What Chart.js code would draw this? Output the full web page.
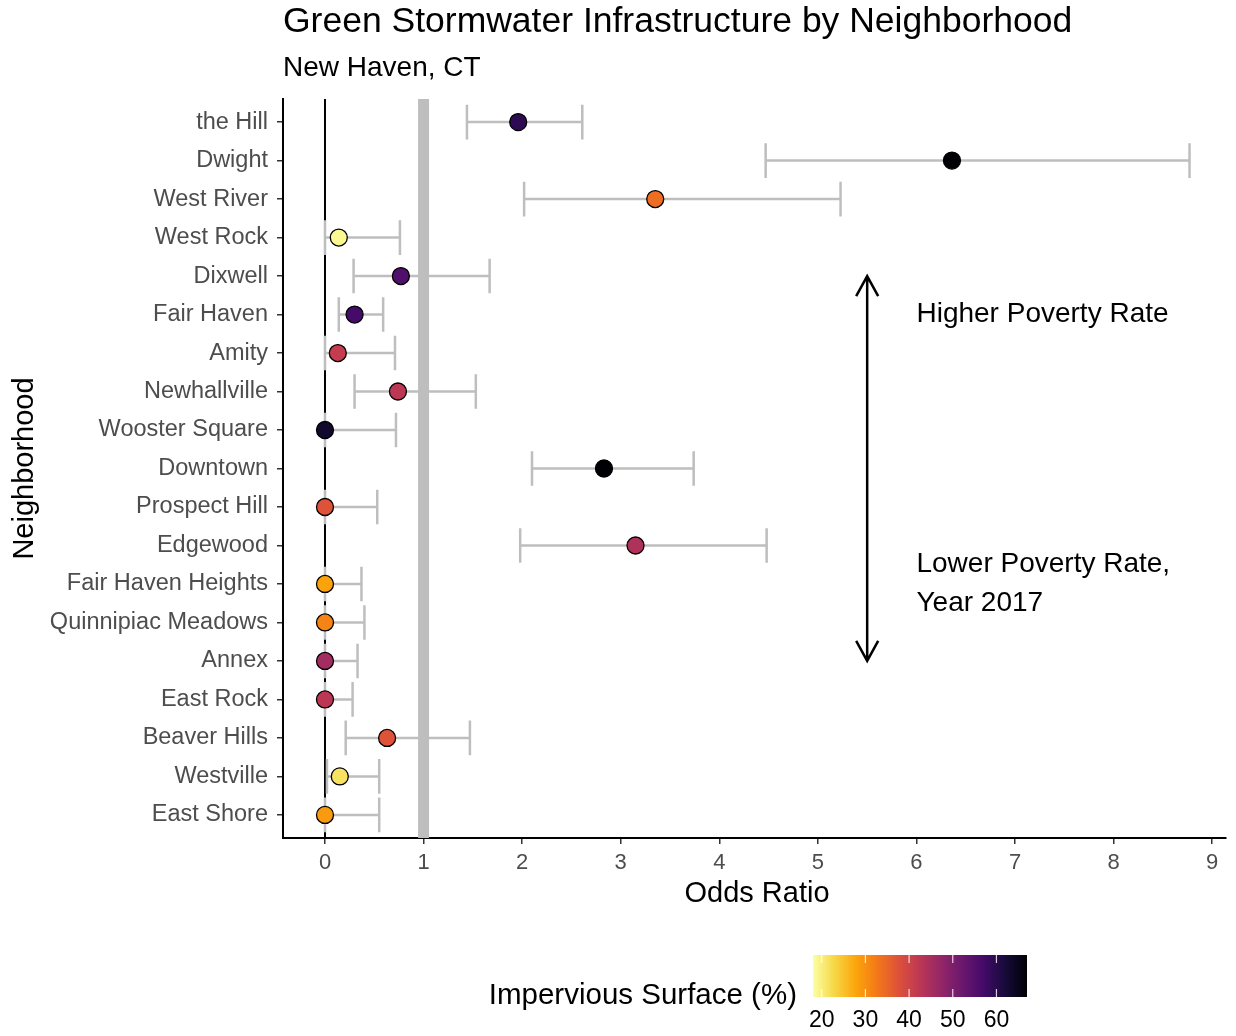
<!DOCTYPE html>
<html>
<head>
<meta charset="utf-8">
<script src="https://cdn.jsdelivr.net/npm/chart.js@4.4.1/dist/chart.umd.min.js"></script>
<style>
  html, body { margin: 0; padding: 0; background: #fff; }
  #wrap { width: 1236px; height: 1036px; }
</style>
</head>
<body>
<div id="wrap"><canvas id="graphique"></canvas></div>
<script>
// donnees
var quartiers = ['the Hill', 'Dwight', 'West River', 'West Rock', 'Dixwell', 'Fair Haven', 'Amity',
    'Newhallville', 'Wooster Square', 'Downtown', 'Prospect Hill', 'Edgewood', 'Fair Haven Heights',
    'Quinnipiac Meadows', 'Annex', 'East Rock', 'Beaver Hills', 'Westville', 'East Shore'];
var oddsRatio = [1.96, 6.36, 3.35, 0.14, 0.77, 0.30, 0.13, 0.74, 0.00, 2.83, 0.00, 3.15, 0.00, 0.00, 0.00, 0.00, 0.63, 0.15, 0.00];
var borneBasse = [1.44, 4.47, 2.02, 0.00, 0.29, 0.14, 0.00, 0.30, 0.00, 2.10, 0.00, 1.98, 0.00, 0.00, 0.00, 0.00, 0.21, 0.02, 0.00];
var borneHaute = [2.61, 8.77, 5.23, 0.76, 1.67, 0.59, 0.71, 1.53, 0.72, 3.74, 0.53, 4.48, 0.37, 0.40, 0.33, 0.28, 1.47, 0.55, 0.55];
var impermeable = [59.5, 67, 34, 19, 55.5, 57, 41.5, 42.5, 63, 67, 37.5, 44, 28, 31.5, 45.5, 42.5, 37.5, 21.5, 29];
var ticksX = [0, 1, 2, 3, 4, 5, 6, 7, 8, 9];
var ticksLegende = [20, 30, 40, 50, 60];
var legendeMin = 18, legendeMax = 67;

// palette inferno
var inferno = ['#000004', '#160b39', '#420a68', '#6a176e', '#932667', '#bc3754',
    '#dd513a', '#f37819', '#fca50a', '#f6d746', '#fcffa4'];

function hexRgb(h) {
    return [parseInt(h.substr(1, 2), 16), parseInt(h.substr(3, 2), 16), parseInt(h.substr(5, 2), 16)];
}
function couleur(v) {
    var t = 1 - (v - legendeMin) / (legendeMax - legendeMin);
    t = Math.max(0, Math.min(1, t));
    var p = t * (inferno.length - 1);
    var i = Math.min(Math.floor(p), inferno.length - 2);
    var f = p - i;
    var a = hexRgb(inferno[i]), b = hexRgb(inferno[i + 1]);
    return 'rgb(' + Math.round(a[0] + (b[0] - a[0]) * f) + ',' + Math.round(a[1] + (b[1] - a[1]) * f) + ',' + Math.round(a[2] + (b[2] - a[2]) * f) + ')';
}

var points = quartiers.map(function (q, i) { return { x: oddsRatio[i], y: i }; });
var couleurs = impermeable.map(couleur);

var police = '"Liberation Sans", Arial, sans-serif';

var pluginFond = {
    id: 'fond',
    beforeDatasetsDraw: function (chart) {
        var ctx = chart.ctx, x = chart.scales.x, y = chart.scales.y, zone = chart.chartArea;
        ctx.save();
        // ligne a 0
        ctx.strokeStyle = '#000';
        ctx.lineWidth = 2;
        ctx.beginPath();
        ctx.moveTo(x.getPixelForValue(0), zone.top);
        ctx.lineTo(x.getPixelForValue(0), zone.bottom);
        ctx.stroke();
        // ligne a 1
        ctx.strokeStyle = '#bebebe';
        ctx.lineWidth = 11;
        ctx.beginPath();
        ctx.moveTo(x.getPixelForValue(1), zone.top);
        ctx.lineTo(x.getPixelForValue(1), zone.bottom);
        ctx.stroke();
        // barres d'erreur
        ctx.strokeStyle = '#bebebe';
        ctx.lineWidth = 2.5;
        var demi = Math.abs(y.getPixelForValue(0.45) - y.getPixelForValue(0));
        for (var i = 0; i < quartiers.length; i++) {
            var py = y.getPixelForValue(i);
            var x1 = x.getPixelForValue(borneBasse[i]), x2 = x.getPixelForValue(borneHaute[i]);
            ctx.beginPath();
            ctx.moveTo(x1, py); ctx.lineTo(x2, py);
            ctx.moveTo(x1, py - demi); ctx.lineTo(x1, py + demi);
            ctx.moveTo(x2, py - demi); ctx.lineTo(x2, py + demi);
            ctx.stroke();
        }
        ctx.restore();
    },
    afterDraw: function (chart) {
        var ctx = chart.ctx, x = chart.scales.x, y = chart.scales.y, zone = chart.chartArea;
        ctx.save();
        // titres
        ctx.fillStyle = '#000';
        ctx.textBaseline = 'middle';
        ctx.textAlign = 'left';
        ctx.font = '35.5px ' + police;
        ctx.fillText('Green Stormwater Infrastructure by Neighborhood', zone.left, 22);
        ctx.font = '28px ' + police;
        ctx.fillText('New Haven, CT', zone.left, 68);

        // titres des axes
        ctx.font = '29px ' + police;
        ctx.textAlign = 'center';
        ctx.fillText('Odds Ratio', 757, 894);
        ctx.save();
        ctx.translate(25, (zone.top + zone.bottom) / 2);
        ctx.rotate(-Math.PI / 2);
        ctx.fillText('Neighborhood', 0, 0);
        ctx.restore();

        // fleche
        var fx = x.getPixelForValue(5.5);
        var fy1 = y.getPixelForValue(4), fy2 = y.getPixelForValue(14);
        ctx.strokeStyle = '#000';
        ctx.lineWidth = 2.5;
        ctx.beginPath();
        ctx.moveTo(fx, fy1); ctx.lineTo(fx, fy2);
        ctx.moveTo(fx - 11, fy1 + 20); ctx.lineTo(fx, fy1); ctx.lineTo(fx + 11, fy1 + 20);
        ctx.moveTo(fx - 11, fy2 - 20); ctx.lineTo(fx, fy2); ctx.lineTo(fx + 11, fy2 - 20);
        ctx.stroke();

        ctx.font = '28px ' + police;
        ctx.textAlign = 'left';
        var tx = x.getPixelForValue(6.0);
        ctx.fillText('Higher Poverty Rate', tx, y.getPixelForValue(5));
        ctx.fillText('Lower Poverty Rate,', tx, y.getPixelForValue(11.5));
        ctx.fillText('Year 2017', tx, y.getPixelForValue(12.5));

        // legende
        var lx1 = 813, lx2 = 1027, ly1 = 955, ly2 = 997;
        var grad = ctx.createLinearGradient(lx1, 0, lx2, 0);
        for (var k = 0; k < inferno.length; k++) {
            grad.addColorStop(k / (inferno.length - 1), inferno[inferno.length - 1 - k]);
        }
        ctx.fillStyle = grad;
        ctx.fillRect(lx1, ly1, lx2 - lx1, ly2 - ly1);
        ctx.strokeStyle = 'rgba(255,255,255,0.8)';
        ctx.lineWidth = 1.2;
        ctx.fillStyle = '#000';
        ctx.font = '23px ' + police;
        ctx.textAlign = 'center';
        ticksLegende.forEach(function (t) {
            var px = lx1 + (t - legendeMin) / (legendeMax - legendeMin) * (lx2 - lx1);
            ctx.beginPath();
            ctx.moveTo(px, ly1); ctx.lineTo(px, ly1 + 8);
            ctx.moveTo(px, ly2); ctx.lineTo(px, ly2 - 8);
            ctx.stroke();
            ctx.fillText(String(t), px, 1021);
        });
        ctx.font = '29.5px ' + police;
        ctx.textAlign = 'right';
        ctx.fillText('Impervious Surface (%)', 797, 996);
        ctx.restore();
    }
};

var ctx = document.getElementById('graphique').getContext('2d');

var graphique = new Chart(ctx, {
    type: 'scatter',
    data: {
        datasets: [
            {
                label: 'Odds Ratio',
                data: points,
                backgroundColor: couleurs,
                borderColor: '#000',
                borderWidth: 1.3,
                pointRadius: 8.5,
                pointHoverRadius: 8.5
            }
        ]
    },
    options: {
        responsive: true,
        maintainAspectRatio: false,
        animation: false,
        layout: { padding: { top: 99, right: 4, bottom: 0, left: 0 } },
        plugins: {
            legend: { display: false },
            tooltip: { enabled: false },
            title: { display: false }
        },
        scales: {
            x: {
                type: 'linear',
                min: -0.426,
                max: 9.142,
                afterBuildTicks: function (scale) {
                    scale.ticks = ticksX.map(function (v) { return { value: v }; });
                },
                afterFit: function (scale) {
                    scale.height = 198;
                },
                grid: { drawOnChartArea: false, tickLength: 6, tickColor: '#333', lineWidth: 1.5 },
                border: { display: true, color: '#000', width: 2 },
                ticks: { color: '#4d4d4d', font: { family: police, size: 22 }, padding: 6, maxRotation: 0 }
            },
            y: {
                type: 'linear',
                reverse: true,
                min: -0.6,
                max: 18.6,
                afterBuildTicks: function (scale) {
                    scale.ticks = quartiers.map(function (q, i) { return { value: i }; });
                },
                afterFit: function (scale) {
                    scale.width = 283;
                },
                grid: { drawOnChartArea: false, tickLength: 6, tickColor: '#333', lineWidth: 1.5 },
                border: { display: true, color: '#000', width: 2 },
                ticks: {
                    color: '#4d4d4d',
                    font: { family: police, size: 23.5 },
                    padding: 9,
                    autoSkip: false,
                    callback: function (v) { return quartiers[v]; }
                }
            }
        }
    },
    plugins: [pluginFond]
});
</script>
</body>
</html>
